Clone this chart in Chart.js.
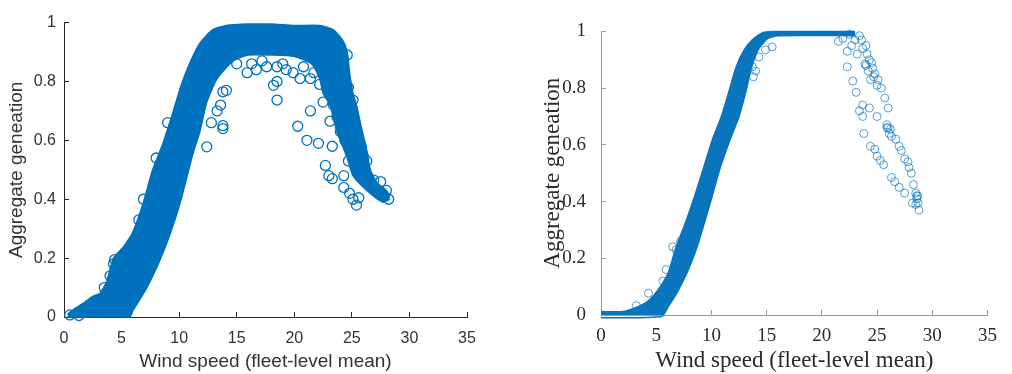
<!DOCTYPE html>
<html lang="en">
<head>
    <meta charset="UTF-8">
    <title>Aggregate generation vs wind speed</title>
    <style>
        body{ margin:0; background:#fff; }
        .plot{ position:absolute; top:0; width:506px; height:374px; }
        #p1{ left:0; }
        #p2{ left:506px; }
    </style>
</head>
<body>
    <div class="plot" id="p1"><canvas id="mychart1" width="506" height="374"></canvas></div>
    <div class="plot" id="p2"><canvas id="mychart2" width="506" height="374"></canvas></div>

    <script src="https://cdn.jsdelivr.net/npm/chart.js@4/dist/chart.umd.min.js"></script>
    <script>
        /* ---- left panel: edges of the dense cloud + loose circles ---- */
        const leftUpperX = [0.3, 1.0, 1.65, 2.5, 3.1, 3.7, 4.3, 5.2, 6.0, 6.9, 7.7, 8.6, 9.5, 10.2, 10.9, 11.8, 12.9, 14.1, 16, 18, 20, 22.2, 23.4, 24.2, 24.6, 24.8, 25.1, 25.4, 25.7, 26.3, 26.6, 27.2, 28.0, 28.3];
        const leftUpperY = [0.01, 0.03, 0.046, 0.07, 0.08, 0.12, 0.2, 0.24, 0.29, 0.39, 0.5, 0.59, 0.70, 0.79, 0.86, 0.93, 0.975, 0.99, 0.995, 0.995, 0.99, 0.99, 0.975, 0.94, 0.90, 0.83, 0.76, 0.72, 0.665, 0.565, 0.50, 0.455, 0.43, 0.41];
        const leftLowerX = [0.3, 5.7, 6.0, 7.2, 8.3, 9.2, 10.1, 10.7, 11.2, 11.8, 12.4, 13.3, 14.7, 16, 18, 20, 21.5, 22.2, 22.5, 23.1, 23.7, 24.6, 25.1, 26.3, 27.7, 28.3];
        const leftLowerY = [0.0, 0.0, 0.023, 0.10, 0.19, 0.28, 0.39, 0.48, 0.555, 0.63, 0.73, 0.81, 0.87, 0.89, 0.89, 0.885, 0.86, 0.81, 0.76, 0.72, 0.63, 0.54, 0.48, 0.43, 0.39, 0.40];
        const leftDotsX = [18.5, 18.2, 18.5, 20.3, 21.4, 21.1, 22.1, 23.3, 22.7, 23.0, 23.3, 24.3, 24.3, 24.8, 25.1, 25.6, 25.4, 24.6, 24.7,
            13.3, 13.6, 13.8, 13.8, 13.8, 14.1, 12.4, 12.8,
            15.9, 16.7, 17.6, 18.5, 19.3, 19.9, 20.5, 21.4, 21.7, 22.2, 15.0, 16.3, 17.2, 19.0, 20.8,
            6.9, 5.9, 4.4, 4.3, 4.0, 0.5, 1.3, 3.5, 6.5, 8.0, 9.0,
            23.4, 25.1, 23.7, 24.8, 26.0, 26.3, 26.9, 27.5, 28.0, 28.2, 23.4, 22.8, 23.4, 22.5, 23.1, 24.0, 24.4, 24.7, 25.1, 24.9, 25.3, 25.8];
        const leftDotsY = [0.737, 0.787, 0.80, 0.648, 0.70, 0.60, 0.59, 0.58, 0.515, 0.48, 0.47, 0.48, 0.44, 0.42, 0.40, 0.405, 0.38, 0.89, 0.78,
            0.70, 0.72, 0.64, 0.65, 0.765, 0.77, 0.578, 0.66,
            0.83, 0.84, 0.85, 0.85, 0.84, 0.83, 0.81, 0.81, 0.83, 0.79, 0.86, 0.86, 0.87, 0.86, 0.85,
            0.40, 0.25, 0.195, 0.18, 0.14, 0.007, 0.005, 0.10, 0.33, 0.54, 0.66,
            0.755, 0.737, 0.68, 0.655, 0.545, 0.53, 0.465, 0.46, 0.43, 0.40, 0.85, 0.80, 0.72, 0.73, 0.665, 0.63, 0.60, 0.53, 0.55, 0.70, 0.62, 0.58];

        /* ---- right panel ---- */
        const rightUpperX = [0, 2.0, 3.4, 4.3, 5.2, 6.1, 6.8, 7.6, 8.4, 9.3, 10.1, 10.9, 11.6, 12.2, 12.9, 13.7, 14.6, 15.5, 23.0];
        const rightUpperY = [0.012, 0.012, 0.03, 0.05, 0.09, 0.15, 0.24, 0.32, 0.41, 0.52, 0.62, 0.70, 0.79, 0.87, 0.93, 0.97, 0.995, 1.0, 1.0];
        const rightLowerX = [0, 5.5, 6.1, 6.9, 7.8, 8.7, 9.4, 10.0, 10.8, 11.7, 12.5, 13.2, 13.6, 14.3, 15.1, 16.0, 23.0];
        const rightLowerY = [-0.01, -0.005, 0.03, 0.08, 0.15, 0.24, 0.33, 0.41, 0.52, 0.62, 0.70, 0.80, 0.87, 0.94, 0.975, 0.985, 0.985];
        const rightDotsX = [13.7, 14.0, 14.3, 14.9, 15.5, 13.8, 6.5, 5.9, 4.3, 3.2, 6.8, 7.2, 5.6,
            21.5, 21.9, 22.3, 22.7, 23.2, 23.4, 23.7, 23.9, 22.3, 22.8, 23.1, 23.4, 23.7, 23.7, 24.3, 25.0, 23.8, 24.4, 24.8, 25.0, 25.3, 25.6, 26.3, 26.6, 27.0, 27.5,
            24.3, 24.6, 24.8, 25.1, 25.4, 25.7, 26.0, 25.9, 26.2, 26.3, 26.7, 27.0, 27.2, 27.5, 27.8, 27.9, 28.1, 28.3, 28.5, 28.6, 28.7, 28.8, 28.2, 28.5,
            24.0, 24.2, 24.5, 24.7, 24.4, 25.0, 24.1, 23.0, 22.5, 23.6, 24.0, 25.9, 26.1, 26.0, 28.6, 28.7];
        const rightDotsY = [0.875, 0.86, 0.91, 0.935, 0.945, 0.84, 0.24, 0.16, 0.077, 0.033, 0.23, 0.26, 0.12,
            0.965, 0.975, 0.93, 0.95, 0.92, 0.985, 0.94, 0.885, 0.875, 0.825, 0.785, 0.72, 0.74, 0.70, 0.73, 0.70, 0.64, 0.595, 0.585, 0.56, 0.545, 0.53, 0.485, 0.47, 0.45, 0.43,
            0.90, 0.87, 0.85, 0.83, 0.80, 0.765, 0.73, 0.66, 0.655, 0.63, 0.62, 0.595, 0.58, 0.55, 0.54, 0.52, 0.50, 0.46, 0.43, 0.42, 0.395, 0.37, 0.395, 0.39,
            0.88, 0.86, 0.89, 0.84, 0.83, 0.81, 0.92, 0.97, 0.99, 0.97, 0.95, 0.67, 0.64, 0.66, 0.41, 0.42];

        const xTicks = [0, 5, 10, 15, 20, 25, 30, 35];
        const yTicks = [0, 0.2, 0.4, 0.6, 0.8, 1];

        const blue = '#0072BD';

        // zip two arrays into {x,y} points
        function pts(xs, ys){
            return xs.map((v, i) => ({x: v, y: ys[i]}));
        }

        function makeChart(canvasId, cfg){
            const datasets = [
                {   // upper edge of the dense cloud
                    data: pts(cfg.upX, cfg.upY),
                    showLine: true, pointRadius: 0, borderColor: cfg.fillColor,
                    borderWidth: 1.5, tension: 0.2, fill: false, clip: 8
                },
                {   // lower edge, filled up to the upper edge
                    data: pts(cfg.loX, cfg.loY),
                    showLine: true, pointRadius: 0, borderColor: cfg.fillColor,
                    borderWidth: 1.5, tension: 0.2, fill: '-1',
                    backgroundColor: cfg.fillColor, clip: 8
                },
                {   // loose circles
                    data: pts(cfg.dotX, cfg.dotY),
                    showLine: false, pointRadius: cfg.r, pointBorderWidth: cfg.lw,
                    pointBorderColor: cfg.dotColor, pointBackgroundColor: 'rgba(0,0,0,0)',
                    clip: 8
                }
            ];

            const tickFont = {family: cfg.family, size: cfg.tickSize};
            const titleFont = {family: cfg.family, size: cfg.titleSize, lineHeight: 1};

            return new Chart(document.getElementById(canvasId), {
                type: 'scatter',
                data: {datasets: datasets},
                options: {
                    responsive: false,
                    animation: false,
                    layout: {padding: {left: 0, top: 16, right: cfg.padRight, bottom: 0}},
                    plugins: {legend: {display: false}, tooltip: {enabled: false}},
                    scales: {
                        x: {
                            type: 'linear', min: 0, max: 35,
                            afterBuildTicks: s => { s.ticks = xTicks.map(v => ({value: v})); },
                            afterFit: s => { s.height = cfg.xAxisH; },
                            ticks: {color: cfg.textColor, font: tickFont, padding: cfg.xPad, maxRotation: 0,
                                    callback: v => String(v)},
                            grid: {drawOnChartArea: false, tickLength: -5, color: cfg.axisColor},
                            border: {color: cfg.axisColor, width: 1},
                            title: {display: true, text: 'Wind speed (fleet-level mean)', color: cfg.textColor,
                                    font: titleFont, padding: {top: 0, bottom: cfg.xTitlePad}}
                        },
                        y: {
                            type: 'linear', min: 0, max: 1,
                            afterBuildTicks: s => { s.ticks = yTicks.map(v => ({value: v})); },
                            afterFit: s => { s.width = cfg.yAxisW; },
                            ticks: {color: cfg.textColor, font: tickFont, padding: cfg.yPad,
                                    callback: v => String(Math.round(v * 10) / 10)},
                            grid: {drawOnChartArea: false, tickLength: -5, color: cfg.axisColor},
                            border: {color: cfg.axisColor, width: 1},
                            title: {display: true, text: 'Aggregate geneation', color: cfg.textColor,
                                    font: titleFont, padding: {top: cfg.yTitlePad, bottom: 0}}
                        }
                    }
                }
            });
        }

        makeChart('mychart1', {
            upX: leftUpperX, upY: leftUpperY, loX: leftLowerX, loY: leftLowerY,
            dotX: leftDotsX, dotY: leftDotsY,
            fillColor: blue, dotColor: blue, r: 5, lw: 1.3,
            family: '"Liberation Sans", Arial, sans-serif', tickSize: 16, titleSize: 19,
            textColor: '#333333', axisColor: '#262626',
            padRight: 39, xAxisH: 57, yAxisW: 64,
            xPad: 17, yPad: 13, xTitlePad: 3, yTitlePad: 7
        });

        makeChart('mychart2', {
            upX: rightUpperX, upY: rightUpperY, loX: rightLowerX, loY: rightLowerY,
            dotX: rightDotsX, dotY: rightDotsY,
            fillColor: '#0a74bd', dotColor: 'rgba(0,114,189,0.75)', r: 4, lw: 0.9,
            family: '"Liberation Serif", "Times New Roman", serif', tickSize: 19, titleSize: 23,
            textColor: '#2b2b2b', axisColor: '#9a9a9a',
            padRight: 13, xAxisH: 59, yAxisW: 95,
            xPad: 15, yPad: 20, xTitlePad: 2, yTitlePad: 35
        });
    </script>
</body>
</html>
